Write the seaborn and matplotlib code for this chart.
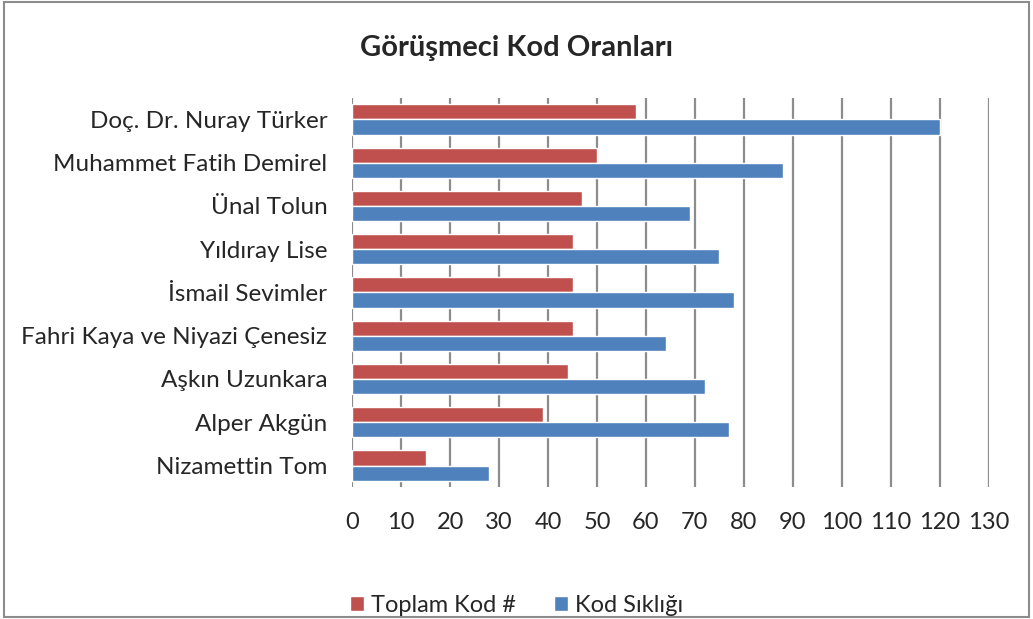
import pandas as pd
import seaborn as sns
import matplotlib.pyplot as plt
from matplotlib.patches import Rectangle

names = [
    "Doç. Dr. Nuray Türker", "Muhammet Fatih Demirel", "Ünal Tolun",
    "Yıldıray Lise", "İsmail Sevimler", "Fahri Kaya ve Niyazi Çenesiz",
    "Aşkın Uzunkara", "Alper Akgün", "Nizamettin Tom"
]
toplam_kod = [58, 50, 47, 45, 45, 45, 44, 39, 15]
kod_sikligi = [120, 88, 69, 75, 78, 64, 72, 77, 28]
x_ticks = list(range(0, 131, 10))

df = pd.DataFrame({
    "Görüşmeci": names * 2,
    "Değer": toplam_kod + kod_sikligi,
    "Seri": ["Toplam Kod #"] * len(names) + ["Kod Sıklığı"] * len(names),
})

sns.set_style("white")
plt.rcParams["font.family"] = ["Lato", "DejaVu Sans"]

fig = plt.figure(figsize=(10.33, 6.19), dpi=100)
ax = fig.add_axes([0.341, 0.213, 0.616, 0.629])

sns.barplot(data=df, x="Değer", y="Görüşmeci", hue="Seri", order=names,
            hue_order=["Toplam Kod #", "Kod Sıklığı"],
            palette=["#C0504D", "#4F81BD"], saturation=1, width=0.7, ax=ax,
            legend=True)

ax.set_xlim(0, 130)
ax.set_xticks(x_ticks)
ax.grid(axis="x", color="#8c8c8c", linewidth=1.6)
ax.set_axisbelow(True)
for s in ax.spines.values():
    s.set_visible(False)
ax.tick_params(axis="x", length=6, color="#8c8c8c", width=1.2, pad=12, labelsize=17)
ax.tick_params(axis="y", length=0, pad=18, labelsize=17.5)
ax.set_xlabel("")
ax.set_ylabel("")

handles, labels = ax.get_legend_handles_labels()
ax.legend_.remove()
fig.legend(handles, labels, loc="center", bbox_to_anchor=(0.5, 0.022), ncol=2,
           frameon=False, fontsize=17, handlelength=0.6, handleheight=0.6,
           handletextpad=0.3, columnspacing=1.6)

fig.text(0.5, 0.922, "Görüşmeci Kod Oranları", ha="center", va="center",
         fontsize=21, fontweight="bold")

fig.patches.append(Rectangle((0.004, 0.004), 0.992, 0.992, transform=fig.transFigure,
                             fill=False, edgecolor="#8c8c8c", linewidth=1.5))

fig.savefig("out.png", dpi=100)
